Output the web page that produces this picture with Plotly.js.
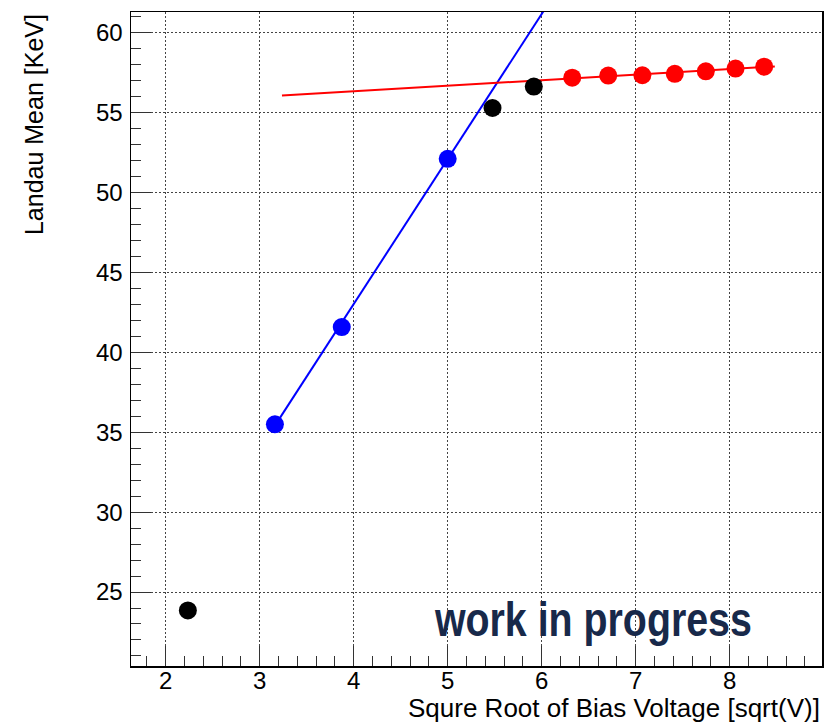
<!DOCTYPE html>
<html>
<head>
<meta charset="utf-8">
<script src="https://cdn.plot.ly/plotly-3.0.1.min.js"></script>
<style>html,body{margin:0;padding:0;background:#fff;}#chart{width:826px;height:723px;}</style>
</head>
<body>
<div id="chart"></div>
<script>
// Data
const blackX = [2.236, 5.477, 5.916];
const blackY = [23.85, 55.30, 56.64];
const blueX = [3.162, 3.873, 5.000];
const blueY = [35.50, 41.59, 52.12];
const redX = [6.325, 6.708, 7.071, 7.416, 7.746, 8.062, 8.367];
const redY = [57.20, 57.33, 57.35, 57.44, 57.60, 57.77, 57.89];
const blueFitX = [3.16, 6.2];
const blueFitY = [35.4, 63.0];
const redFitX = [3.237, 8.48];
const redFitY = [56.08, 57.90];
const xTickVals = [2, 3, 4, 5, 6, 7, 8];
const yTickVals = [25, 30, 35, 40, 45, 50, 55, 60];

const FONT = "Liberation Sans, Arial, Helvetica, sans-serif";

const traces = [
  {x: blueFitX, y: blueFitY, mode: 'lines', line: {color: '#0000ff', width: 2}, hoverinfo: 'skip'},
  {x: redFitX, y: redFitY, mode: 'lines', line: {color: '#ff0000', width: 2}, hoverinfo: 'skip'},
  {x: blackX, y: blackY, mode: 'markers', marker: {color: '#000000', size: 18}},
  {x: blueX, y: blueY, mode: 'markers', marker: {color: '#0000ff', size: 18}},
  {x: redX, y: redY, mode: 'markers', marker: {color: '#ff0000', size: 18}}
];

const axisCommon = {
  showline: true, linecolor: '#000', linewidth: 1.5, mirror: true,
  ticks: 'inside', ticklen: 20, tickwidth: 1, tickcolor: '#333',
  showgrid: true, gridcolor: '#444', griddash: '1.5px,2.5px', gridwidth: 1,
  zeroline: false,
  tickfont: {family: FONT, size: 24, color: '#000'}
};

const layout = {
  width: 826, height: 723,
  margin: {l: 131, r: 4, t: 12, b: 57},
  paper_bgcolor: '#fff', plot_bgcolor: '#fff',
  showlegend: false,
  xaxis: Object.assign({}, axisCommon, {
    range: [1.631, 8.982], tickmode: 'array', tickvals: xTickVals, ticktext: xTickVals.map(String),
    minor: {dtick: 0.2, tick0: 0, ticks: 'inside', ticklen: 10, tickcolor: '#333', tickwidth: 1, showgrid: false},
    ticklabelstandoff: -7
  }),
  yaxis: Object.assign({}, axisCommon, {
    range: [20.37, 61.31], tickmode: 'array', tickvals: yTickVals, ticktext: yTickVals.map(String),
    minor: {dtick: 1, tick0: 0, ticks: 'inside', ticklen: 10, tickcolor: '#333', tickwidth: 1, showgrid: false},
    ticklabelstandoff: 2
  }),
  annotations: [
    {text: 'work in progress', xref: 'x', yref: 'y', x: 6.546, y: 23.25, xanchor: 'center', yanchor: 'middle',
     showarrow: false, font: {family: FONT, size: 48, weight: 'bold', color: '#18294a'}},
    {text: 'Squre Root of Bias Voltage [sqrt(V)]', xref: 'paper', yref: 'paper', x: 1, y: -0.064, xanchor: 'right', yanchor: 'middle',
     showarrow: false, font: {family: FONT, size: 26, color: '#000'}},
    {text: 'Landau Mean [KeV]', xref: 'paper', yref: 'paper', x: -0.141, y: 1, xanchor: 'center', yanchor: 'top', textangle: -90,
     showarrow: false, font: {family: FONT, size: 25, color: '#000'}}
  ]
};

Plotly.newPlot('chart', traces, layout, {displayModeBar: false, staticPlot: true}).then(function () {
  document.querySelectorAll('.annotation-text').forEach(function (t) {
    if (t.textContent === 'work in progress') {
      t.setAttribute('textLength', '317');
      t.setAttribute('lengthAdjust', 'spacingAndGlyphs');
    }
  });
});
</script>
</body>
</html>
